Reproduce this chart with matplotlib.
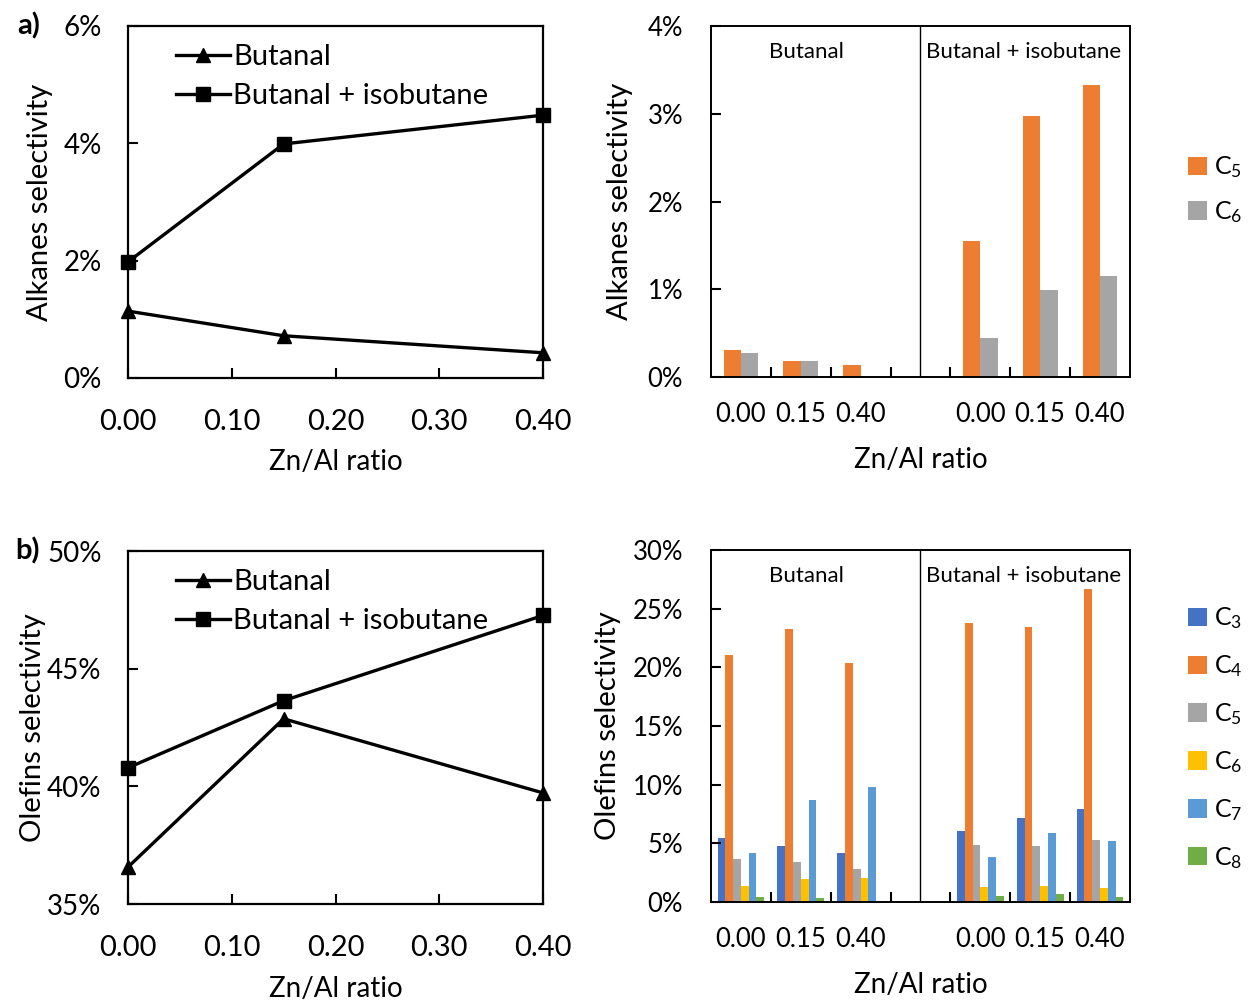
import numpy as np
import matplotlib
matplotlib.use('Agg')
from matplotlib import pyplot as plt
from matplotlib.patches import Patch

plt.rcParams['font.family'] = ['Lato', 'DejaVu Sans']
plt.rcParams['mathtext.fontset'] = 'custom'
plt.rcParams['mathtext.rm'] = 'Lato'
plt.rcParams['mathtext.default'] = 'regular'

# ---- data (values in %) ----
ratio = [0.00, 0.15, 0.40]
alk_butanal = [1.14, 0.72, 0.43]
alk_iso = [1.98, 3.99, 4.48]
ole_butanal = [36.57, 42.87, 39.72]
ole_iso = [40.79, 43.64, 47.26]

cat_labels = ['0.00', '0.15', '0.40', '', '0.00', '0.15', '0.40']
alk_c5 = [0.31, 0.18, 0.14, np.nan, 1.55, 2.98, 3.33]
alk_c6 = [0.27, 0.18, 0.00, np.nan, 0.44, 0.99, 1.15]

ole_c3 = [5.44, 4.79, 4.14, np.nan, 6.09, 7.20, 7.96]
ole_c4 = [21.03, 23.30, 20.38, np.nan, 23.75, 23.40, 26.70]
ole_c5 = [3.68, 3.45, 2.80, np.nan, 4.90, 4.79, 5.32]
ole_c6 = [1.39, 1.95, 2.07, np.nan, 1.27, 1.39, 1.16]
ole_c7 = [4.14, 8.73, 9.78, np.nan, 3.80, 5.87, 5.21]
ole_c8 = [0.42, 0.31, 0.11, np.nan, 0.54, 0.65, 0.42]

blue, orange, grey, gold, lblue, green = '#4472C4', '#ED7D31', '#A5A5A5', '#FFC000', '#5B9BD5', '#70AD47'

fig = plt.figure(figsize=(12.48, 10), dpi=100)

ax1 = fig.add_axes([0.1026, 0.622, 0.3325, 0.352])
ax2 = fig.add_axes([0.5697, 0.623, 0.3357, 0.351])
ax3 = fig.add_axes([0.1026, 0.096, 0.3325, 0.353])
ax4 = fig.add_axes([0.5697, 0.098, 0.3357, 0.352])


def line_panel(ax, y1, y2, ylim, yticks, ylabel, tag, ylab_x):
    ax.plot(ratio, y1, color='black', lw=2.4, marker='^', ms=10, clip_on=False, zorder=5, label='Butanal')
    ax.plot(ratio, y2, color='black', lw=2.4, marker='s', ms=9.5, clip_on=False, zorder=5, label='Butanal + isobutane')
    ax.set_xlim(0, 0.40)
    ax.set_ylim(*ylim)
    ax.set_xticks([0, 0.1, 0.2, 0.3, 0.4])
    ax.set_xticklabels(['0.00', '0.10', '0.20', '0.30', '0.40'])
    ax.set_yticks(yticks)
    ax.set_yticklabels(['%d%%' % t for t in yticks])
    ax.tick_params(axis='x', direction='in', length=7, width=1.5, pad=22, labelsize=21)
    ax.tick_params(axis='y', direction='in', length=7, width=1.5, pad=19, labelsize=20)
    for s in ax.spines.values():
        s.set_linewidth(1.6)
    ax.set_xlabel('Zn/Al ratio', fontsize=20)
    ax.xaxis.set_label_coords(0.5, -0.203)
    ax.set_ylabel(ylabel, fontsize=21)
    ax.yaxis.set_label_coords(ylab_x, 0.5)
    ax.legend(loc='upper left', bbox_to_anchor=(0.081, 0.99), frameon=False, fontsize=21,
              handlelength=1.85, handletextpad=0.1, borderpad=0, labelspacing=0.45)
    ax.text(-0.212, 1.0, tag, transform=ax.transAxes, fontsize=21, fontweight='bold',
            ha='right', va='center')


line_panel(ax1, alk_butanal, alk_iso, (0, 6), [0, 2, 4, 6], 'Alkanes selectivity', 'a)', -0.18)
line_panel(ax3, ole_butanal, ole_iso, (35, 50), [35, 40, 45, 50], 'Olefins selectivity', 'b)', -0.198)


def bar_panel(ax, series, colors, names, width, ylim, yticks, ylabel, leg_anchor, leg_space):
    x = np.arange(len(cat_labels))
    n = len(series)
    for i, (vals, c, nm) in enumerate(zip(series, colors, names)):
        ax.bar(x + (i - (n - 1) / 2) * width, vals, width, color=c, label=nm)
    ax.set_xlim(-0.5, len(cat_labels) - 0.5)
    ax.set_ylim(*ylim)
    ax.axvline(3, color='black', lw=1)
    ax.set_xticks(np.arange(0.5, len(cat_labels) - 1))
    ax.set_xticklabels([])
    ax.set_xticks(x, minor=True)
    ax.set_xticklabels(cat_labels, minor=True)
    ax.tick_params(axis='x', which='major', direction='in', length=7, width=1.5)
    ax.tick_params(axis='x', which='minor', length=0, pad=18, labelsize=18.5)
    ax.set_yticks(yticks)
    ax.set_yticklabels(['%d%%' % t for t in yticks])
    ax.tick_params(axis='y', direction='in', length=7, width=1.5, pad=20, labelsize=18.5)
    for s in ax.spines.values():
        s.set_linewidth(1.4)
    ax.set_xlabel('Zn/Al ratio', fontsize=20)
    ax.xaxis.set_label_coords(0.5, -0.2)
    ax.set_ylabel(ylabel, fontsize=21)
    ax.text(1.1, 0.925, 'Butanal', transform=ax.get_xaxis_transform(), ha='center', va='center', fontsize=16)
    ax.text(4.73, 0.925, 'Butanal + isobutane', transform=ax.get_xaxis_transform(), ha='center', va='center', fontsize=16)
    handles = [Patch(facecolor=c) for c in colors]
    fig.legend(handles, names, loc='upper left', bbox_to_anchor=leg_anchor, frameon=False, fontsize=18,
               handlelength=0.75, handleheight=0.75, handletextpad=0.3, borderpad=0, borderaxespad=0,
               labelspacing=leg_space)


bar_panel(ax2, [alk_c5, alk_c6], [orange, grey], ['C$_{5}$', 'C$_{6}$'], 0.29, (0, 4), [0, 1, 2, 3, 4],
          'Alkanes selectivity', (0.952, 0.8455), 0.75)
ax2.yaxis.set_label_coords(-0.185, 0.5)
bar_panel(ax4, [ole_c3, ole_c4, ole_c5, ole_c6, ole_c7, ole_c8], [blue, orange, grey, gold, lblue, green],
          ['C$_{3}$', 'C$_{4}$', 'C$_{5}$', 'C$_{6}$', 'C$_{7}$', 'C$_{8}$'], 0.13, (0, 30),
          [0, 5, 10, 15, 20, 25, 30], 'Olefins selectivity', (0.952, 0.3945), 0.88)
ax4.yaxis.set_label_coords(-0.215, 0.5)

fig.savefig('out.png', dpi=100)
